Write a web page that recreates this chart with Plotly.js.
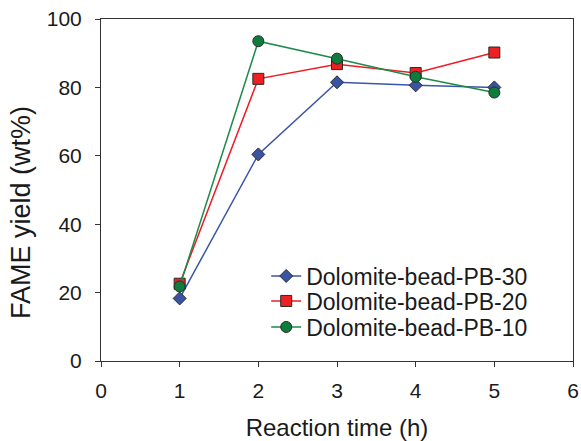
<!DOCTYPE html>
<html>
<head>
<meta charset="utf-8">
<script src="https://cdn.plot.ly/plotly-3.0.1.min.js"></script>
<style>html,body{margin:0;padding:0;background:#fff;}#chart{width:581px;height:441px;}</style>
</head>
<body>
<div id="chart"></div>
<script>
const reactionTime = [1, 2, 3, 4, 5];
const pb30 = [18.3, 60.4, 81.5, 80.6, 80.0];
const pb20 = [22.6, 82.5, 86.8, 84.2, 90.2];
const pb10 = [21.8, 93.5, 88.4, 83.1, 78.5];
const seriesNames = ['Dolomite-bead-PB-30', 'Dolomite-bead-PB-20', 'Dolomite-bead-PB-10'];
const xTicks = [0, 1, 2, 3, 4, 5, 6];
const yTicks = [0, 20, 40, 60, 80, 100];
const xTitle = 'Reaction time (h)';
const yTitle = 'FAME yield (wt%)';

const mk = (y, name, lineColor, fill, symbol, size, legendId) => ({
  x: reactionTime, y: y, name: name, type: 'scatter', mode: 'lines+markers',
  legend: legendId,
  line: {color: lineColor, width: 1.5},
  marker: {symbol: symbol, size: size, color: fill, line: {color: '#2a2a2a', width: 1}}
});

const data = [
  mk(pb30, seriesNames[0], '#3b55a8', '#3a54a4', 'diamond', 10, 'legend'),
  mk(pb20, seriesNames[1], '#ee1c24', '#ed2024', 'square', 11, 'legend2'),
  mk(pb10, seriesNames[2], '#1e8a4a', '#0e7d3c', 'circle', 11, 'legend3')
];

const fam = 'Liberation Sans, Arial, sans-serif';
const axisFont = {family: fam, size: 21, color: '#1a1a1a'};
const legendBase = (y) => ({
  x: 0.350, y: y, xanchor: 'left', yanchor: 'middle',
  font: {family: fam, size: 23, color: '#1a1a1a'},
  bgcolor: 'rgba(0,0,0,0)', borderwidth: 0
});
const layout = {
  width: 581, height: 441,
  margin: {l: 101, r: 8, t: 19, b: 80},
  paper_bgcolor: '#fff', plot_bgcolor: '#fff',
  showlegend: true,
  legend: legendBase(0.2485),
  legend2: legendBase(0.1754),
  legend3: legendBase(0.0994),
  xaxis: {
    range: [0, 6], tickvals: xTicks, ticktext: xTicks.map(String),
    showgrid: false, zeroline: false,
    showline: true, linecolor: '#333', linewidth: 1, mirror: true,
    ticks: 'outside', ticklen: 5, tickcolor: '#333', tickwidth: 1,
    ticklabelstandoff: 6,
    tickfont: axisFont,
    title: {text: xTitle, font: {family: fam, size: 24, color: '#1a1a1a'}, standoff: 22}
  },
  yaxis: {
    range: [0, 100], tickvals: yTicks, ticktext: yTicks.map(String),
    showgrid: false, zeroline: false,
    showline: true, linecolor: '#333', linewidth: 1, mirror: true,
    ticks: 'outside', ticklen: 5, tickcolor: '#333', tickwidth: 1,
    ticklabelstandoff: 9,
    tickfont: axisFont
  },
  annotations: [{
    text: yTitle, xref: 'paper', yref: 'paper',
    x: (21 - 101) / 472, y: (361 - 213) / 342, xanchor: 'center', yanchor: 'middle',
    textangle: -90, showarrow: false,
    font: {family: fam, size: 27, color: '#1a1a1a'}
  }]
};

Plotly.newPlot('chart', data, layout, {staticPlot: true, displayModeBar: false});
</script>
</body>
</html>
